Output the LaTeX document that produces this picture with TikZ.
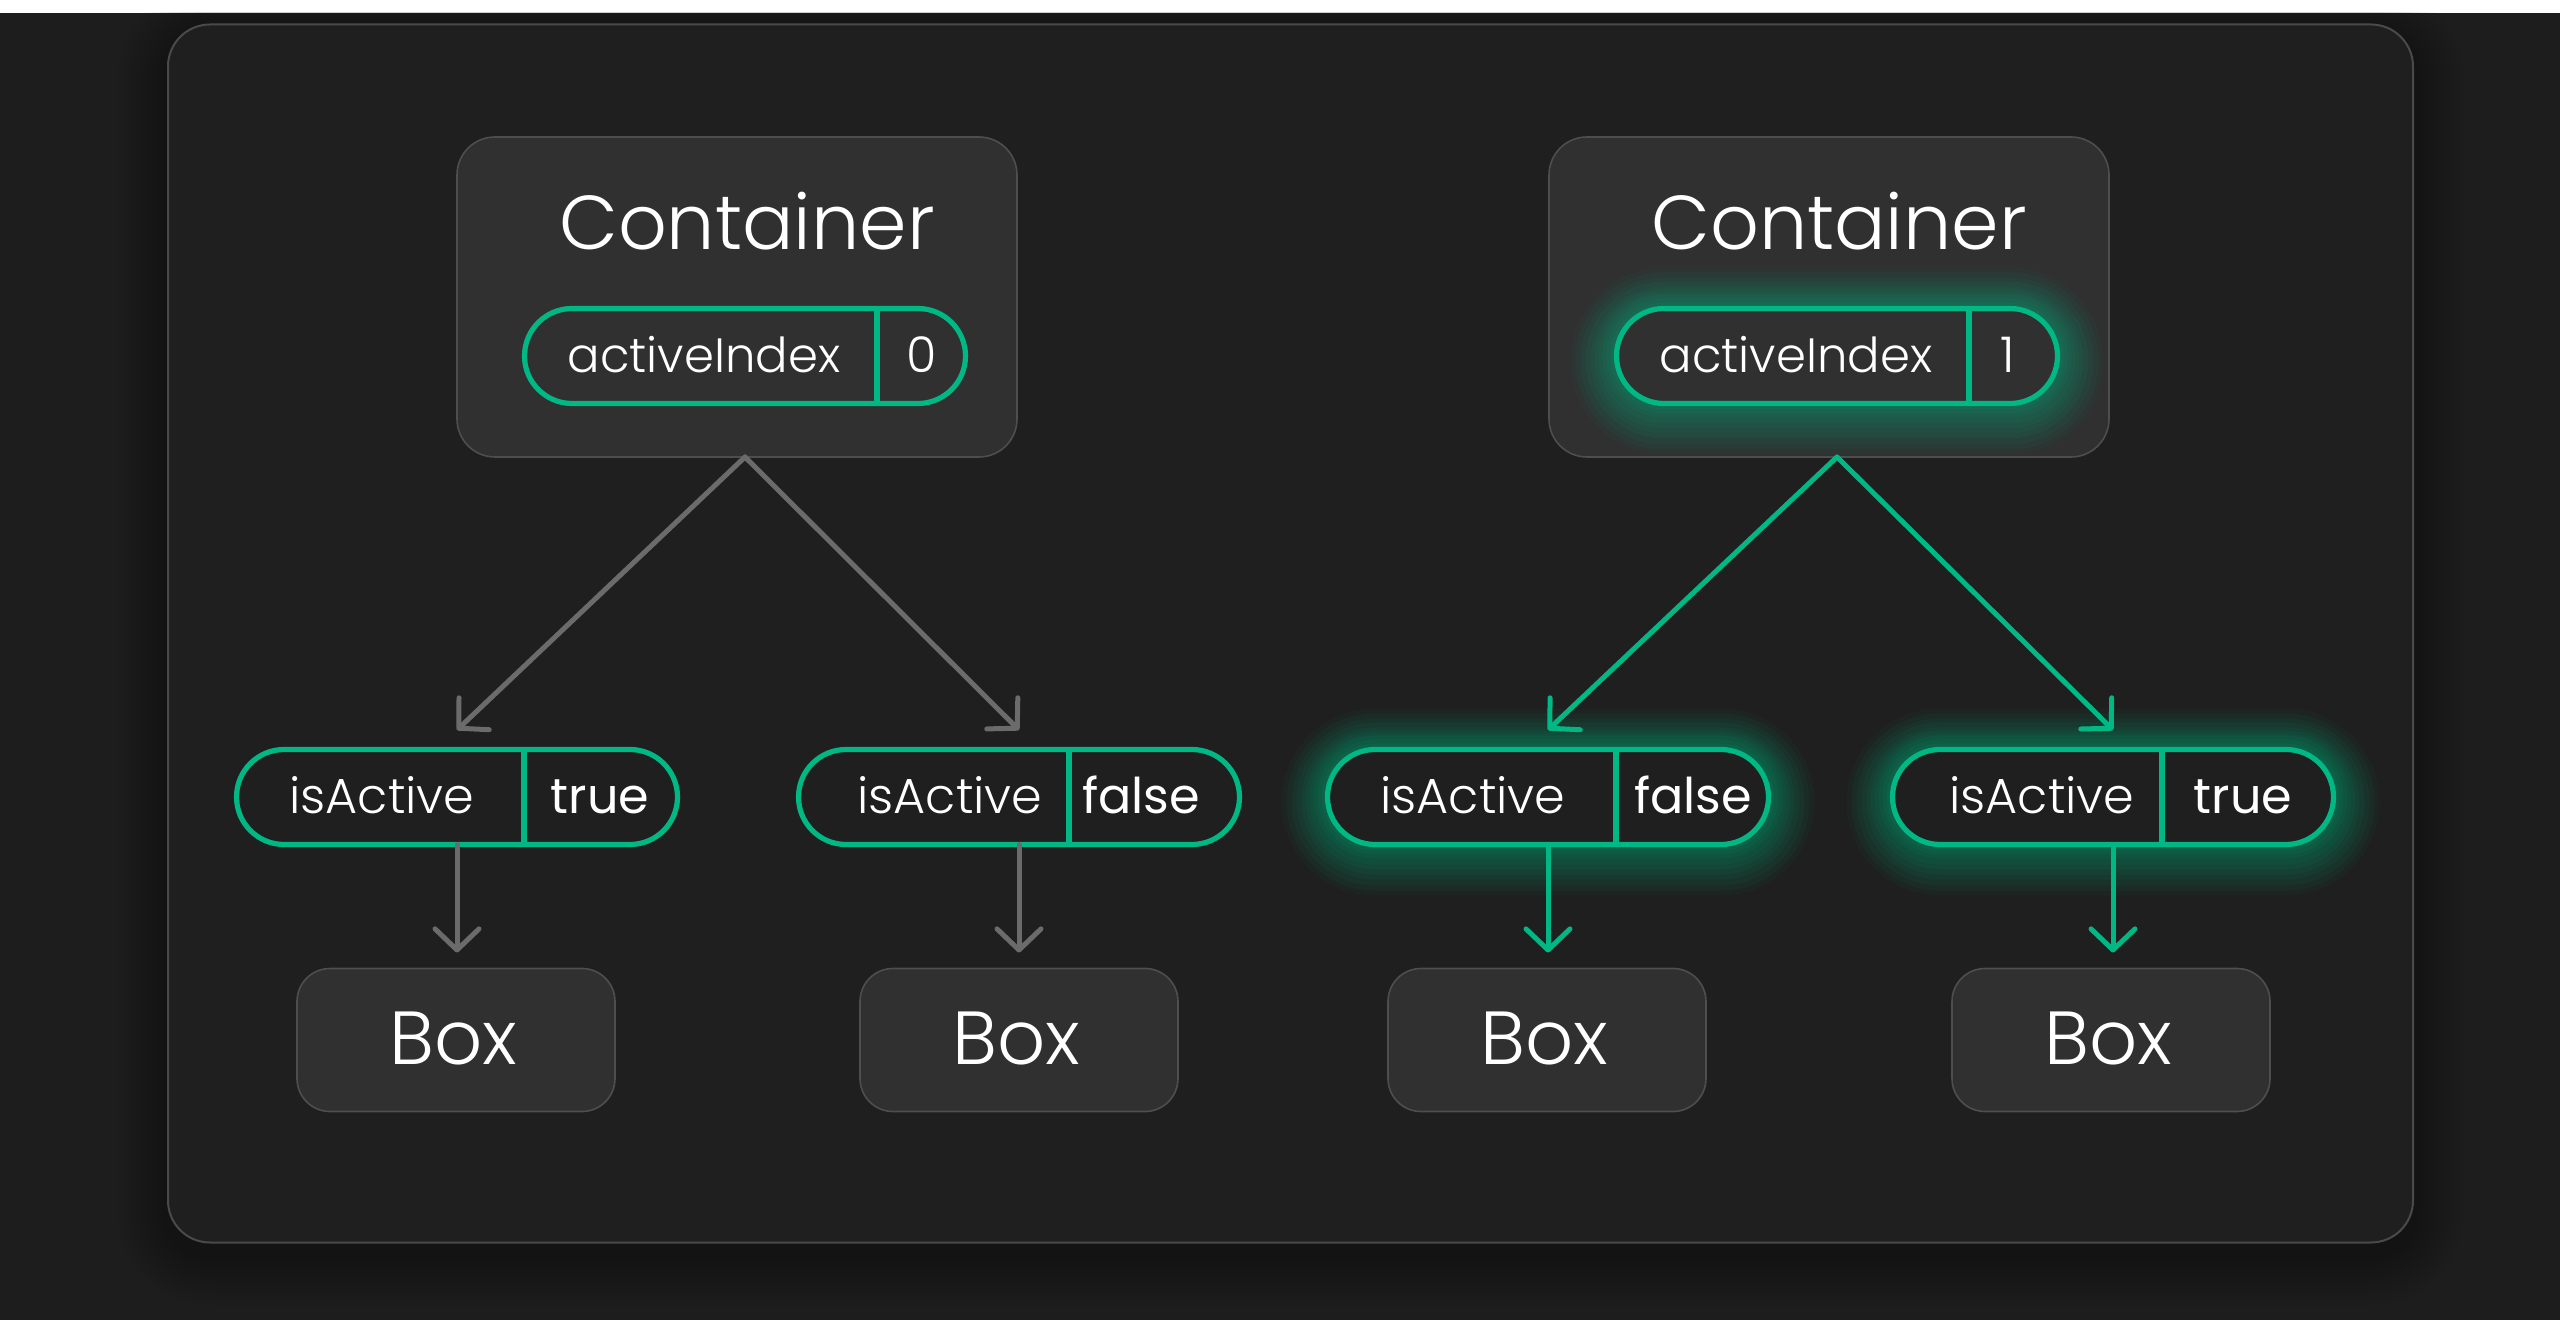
\documentclass[tikz,border=0pt]{standalone}
\usepackage{fontspec}
\setmainfont{Poppins}
\newfontfamily\poplight{Poppins Light}
\usetikzlibrary{arrows.meta,shapes.misc}
\newdimen\pxu
\pxu=0.01cm
\definecolor{bgc}{HTML}{1D1D1D}
\definecolor{panelc}{HTML}{1F1F1F}
\definecolor{panelb}{HTML}{4A4A4A}
\definecolor{boxc}{HTML}{303030}
\definecolor{boxb}{HTML}{4E4E4E}
\definecolor{grn}{HTML}{00B884}
\definecolor{gry}{HTML}{6B6B6B}
\tikzset{
  panelnode/.style={draw=panelb, fill=panelc, line width=2\pxu, rounded corners=42\pxu, inner sep=0, outer sep=0},
  cont/.style={draw=boxb, fill=boxc, line width=1.6\pxu, rounded corners=38\pxu, inner sep=0, outer sep=0, minimum width=560\pxu, minimum height=320\pxu},
  boxn/.style={draw=boxb, fill=boxc, line width=1.6\pxu, rounded corners=33\pxu, inner sep=0, outer sep=0, minimum width=318\pxu, minimum height=143\pxu},
  pill/.style={rounded rectangle, draw=grn, line width=5.2\pxu, inner sep=0, outer sep=0, minimum width=441\pxu, minimum height=95\pxu},
  glowring/.style={preaction={draw=grn, draw opacity=#1, line width=\glw, transform canvas={yshift=-0.05cm}}},
  glow/.style={
    preaction={draw=grn, draw opacity=0.045, line width=92\pxu, transform canvas={yshift=-0.05cm}},
    preaction={draw=grn, draw opacity=0.05, line width=82\pxu, transform canvas={yshift=-0.05cm}},
    preaction={draw=grn, draw opacity=0.05, line width=72\pxu, transform canvas={yshift=-0.05cm}},
    preaction={draw=grn, draw opacity=0.055, line width=62\pxu, transform canvas={yshift=-0.04cm}},
    preaction={draw=grn, draw opacity=0.055, line width=52\pxu, transform canvas={yshift=-0.04cm}},
    preaction={draw=grn, draw opacity=0.06, line width=44\pxu, transform canvas={yshift=-0.03cm}},
    preaction={draw=grn, draw opacity=0.06, line width=36\pxu, transform canvas={yshift=-0.02cm}},
    preaction={draw=grn, draw opacity=0.065, line width=28\pxu},
    preaction={draw=grn, draw opacity=0.07, line width=20\pxu},
    preaction={draw=grn, draw opacity=0.07, line width=12\pxu}},
  divider/.style={draw=grn, line width=5.2\pxu},
  titletext/.style={anchor=base, inner sep=0, text=white, font=\poplight\fontsize{21.7}{22}\selectfont},
  idxtext/.style={anchor=base, inner sep=0, text=white, font=\poplight\fontsize{13.7}{14}\selectfont},
  keytext/.style={anchor=base, inner sep=0, text=white, font=\poplight\fontsize{14}{14}\selectfont},
  valtext/.style={anchor=base, inner sep=0, text=white, font=\fontsize{14}{14}\selectfont},
  boxtext/.style={anchor=base, inner sep=0, text=white, font=\poplight\fontsize{21.4}{22}\selectfont},
  grayarrow/.style={draw=gry, line width=1.42pt, line cap=round, -{Straight Barb[length=6pt, width=12.5pt, round]}},
  greenarrow/.style={draw=grn, line width=1.42pt, line cap=round, -{Straight Barb[length=6pt, width=12.5pt, round]}}
}
\begin{document}
\begin{tikzpicture}[x=0.01cm, y=-0.01cm]
\useasboundingbox (0,0) rectangle (2560,1325);
\fill[white] (0,0) rectangle (2560,1325);
\fill[bgc] (0,13) rectangle (2560,1320);
% shadow of the panel
\begin{scope}
\clip (0,13) rectangle (2560,1320);
\foreach \i in {1,...,10} {
  \fill[black, opacity=0.03, rounded corners={(42+5*\i)*0.01cm}]
    (168-5*\i, 36-5*\i) rectangle (2413+5*\i, 1255+5*\i);
}
\end{scope}
\node[panelnode, minimum width=2245\pxu, minimum height=1218\pxu] (panel) at (1290.5, 633.5) {};

% containers
\node[cont] (c1) at (737, 297) {};
\node[cont] (c2) at (1829, 297) {};
\node[titletext] (t1) at (747, 250) {Container};
\node[titletext] (t2) at (1839, 250) {Container};

% activeIndex pills
\node[pill, fill=boxc] (ap1) at (745, 356) {};
\node[pill, glow, fill=boxc] (ap2) at (1837, 356) {};
\draw[divider] (877,0 |- ap1.north) -- (877,0 |- ap1.south);
\draw[divider] (1969,0 |- ap2.north) -- (1969,0 |- ap2.south);
\node[idxtext] (ak1) at (704, 373) {activeIndex};
\node[keytext] (av1) at (922, 373) {0};
\node[idxtext] (ak2) at (1796, 373) {activeIndex};
\node[keytext] (av2) at (2008, 373) {1};

% isActive pills
\node[pill, fill=panelc] (p1) at (457, 797) {};
\node[pill, fill=panelc] (p2) at (1019, 797) {};
\node[pill, glow, fill=panelc] (p3) at (1548, 797) {};
\node[pill, glow, fill=panelc] (p4) at (2113, 797) {};
\draw[divider] (524,0 |- p1.north) -- (524,0 |- p1.south);
\draw[divider] (1069,0 |- p2.north) -- (1069,0 |- p2.south);
\draw[divider] (1616,0 |- p3.north) -- (1616,0 |- p3.south);
\draw[divider] (2162,0 |- p4.north) -- (2162,0 |- p4.south);
\node[keytext] (k1) at (382, 814) {isActive};
\node[valtext] (v1) at (600, 814) {true};
\node[keytext] (k2) at (950, 814) {isActive};
\node[valtext] (v2) at (1141, 814) {false};
\node[keytext] (k3) at (1473, 814) {isActive};
\node[valtext] (v3) at (1693, 814) {false};
\node[keytext] (k4) at (2042, 814) {isActive};
\node[valtext] (v4) at (2243, 814) {true};

% boxes
\node[boxn] (b1) at (456, 1040) {};
\node[boxn] (b2) at (1019, 1040) {};
\node[boxn] (b3) at (1547, 1040) {};
\node[boxn] (b4) at (2111, 1040) {};
\node[boxtext] (bt1) at (453, 1064) {Box};
\node[boxtext] (bt2) at (1016, 1064) {Box};
\node[boxtext] (bt3) at (1544, 1064) {Box};
\node[boxtext] (bt4) at (2108, 1064) {Box};

% connectors
\coordinate (a1) at (c1.south -| ap1.center);
\coordinate (a2) at (c2.south -| ap2.center);
\draw[grayarrow] (a1) -- ([yshift=0.195cm]p1.north);
\draw[grayarrow] (a1) -- ([yshift=0.195cm]p2.north);
\draw[greenarrow] (a2) -- ([yshift=0.195cm]p3.north);
\draw[greenarrow] (a2) -- ([yshift=0.195cm]p4.north);
\draw[grayarrow] (p1.south) -- ([yshift=0.16cm]p1.south |- b1.north);
\draw[grayarrow] (p2.south) -- ([yshift=0.16cm]p2.south |- b2.north);
\draw[greenarrow] (p3.south) -- ([yshift=0.16cm]p3.south |- b3.north);
\draw[greenarrow] (p4.south) -- ([yshift=0.16cm]p4.south |- b4.north);
\end{tikzpicture}
\end{document}
